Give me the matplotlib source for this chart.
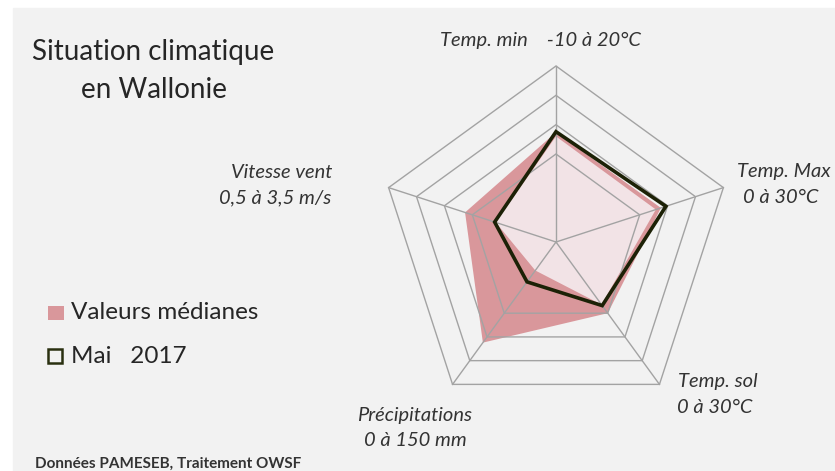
import numpy as np
import matplotlib.pyplot as plt
from matplotlib.patches import Polygon, Rectangle

# -----------------------------
# Data
# -----------------------------
axe_noms = ["Temp. min", "Temp. Max", "Temp. sol", "Précipitations", "Vitesse vent"]
axe_min = [-10, 0, 0, 0, 0.5]
axe_max = [20, 30, 30, 150, 3.5]

medianes = [8.7, 18.8, 15.0, 106, 2.13]
mai_2017 = [8.8, 19.7, 13.4, 42, 1.60]
zone_claire = [8.0, 17.9, 13.2, 30, 1.58]

niveaux = [3, 4, 5, 6]   # grid rings, out of 6
n_niveaux = 6

# -----------------------------
# Figure setup (pixel layout)
# -----------------------------
W, H = 835, 471
BG = "#f2f2f2"
PINK = "#d9979b"
LIGHT = "#f2e3e6"
GRID = "#a3a3a3"
DARK = "#1c2106"
FONT = "Lato"

cx, cy, R = 556, 242, 176

fig = plt.figure(figsize=(W / 100, H / 100), dpi=100)
fig.patch.set_facecolor("white")
fig.patches.append(Rectangle((13 / W, 0), 1 - 13 / W, 1 - 8 / H,
                             transform=fig.transFigure, color=BG, zorder=-5))

ax = fig.add_axes([0, 0, 1, 1])
ax.set_xlim(-cx / R, (W - cx) / R)
ax.set_ylim((cy - H) / R, cy / R)
ax.axis("off")

angles = np.deg2rad(90 - 72 * np.arange(len(axe_noms)))


def to_xy(values):
    frac = (np.array(values, float) - np.array(axe_min)) / (np.array(axe_max) - np.array(axe_min))
    return np.column_stack([frac * np.cos(angles), frac * np.sin(angles)])


# series fills
ax.add_patch(Polygon(to_xy(medianes), closed=True, facecolor=PINK, edgecolor="none", zorder=1))
ax.add_patch(Polygon(to_xy(zone_claire), closed=True, facecolor=LIGHT, edgecolor="none", zorder=2))

# pentagon grid + spokes
for lv in niveaux:
    f = lv / n_niveaux
    ax.add_patch(Polygon(np.column_stack([f * np.cos(angles), f * np.sin(angles)]),
                         closed=True, fill=False, edgecolor=GRID, lw=1.0, zorder=3))
for a in angles:
    ax.plot([0, np.cos(a)], [0, np.sin(a)], color=GRID, lw=1.0, zorder=3)

# Mai 2017 outline
ax.add_patch(Polygon(to_xy(mai_2017), closed=True, fill=False, edgecolor=DARK,
                     lw=2.6, joinstyle="miter", zorder=4))


def px(x, y):
    return x / W, 1 - y / H


# -----------------------------
# Texts
# -----------------------------
fig.text(*px(153, 60), "Situation climatique", ha="center", va="baseline",
         fontsize=20, family=FONT, color="#262626")
fig.text(*px(154, 98), "en Wallonie", ha="center", va="baseline",
         fontsize=20, family=FONT, color="#262626")

lab = dict(fontsize=14.5, family=FONT, style="italic", color="#333333", va="baseline")
fig.text(*px(540, 46), "Temp. min    -10 à 20°C", ha="center", **lab)
fig.text(*px(784, 177), "Temp. Max", ha="center", **lab)
fig.text(*px(781, 203), "0 à 30°C", ha="center", **lab)
fig.text(*px(678, 387), "Temp. sol", ha="left", **lab)
fig.text(*px(677, 413), "0 à 30°C", ha="left", **lab)
fig.text(*px(415, 421), "Précipitations", ha="center", **lab)
fig.text(*px(415, 446), "0 à 150 mm", ha="center", **lab)
fig.text(*px(332, 178), "Vitesse vent", ha="right", **lab)
fig.text(*px(331, 203), "0,5 à 3,5 m/s", ha="right", **lab)

# legend
fig.patches.append(Rectangle(px(48, 320), 16 / W, 14 / H, transform=fig.transFigure,
                             facecolor=PINK, edgecolor="none"))
fig.patches.append(Rectangle(px(48, 363), 14 / W, 14 / H, transform=fig.transFigure,
                             facecolor="none", edgecolor="#2a3010", lw=1.8))
fig.text(*px(71, 319), "Valeurs médianes", ha="left", va="baseline",
         fontsize=17.5, family=FONT, color="#262626")
fig.text(*px(71, 363), "Mai   2017", ha="left", va="baseline",
         fontsize=17.5, family=FONT, color="#262626")

fig.text(*px(35, 468), "Données PAMESEB, Traitement OWSF", ha="left", va="baseline",
         fontsize=11, family=FONT, weight="bold", color="#333333")

fig.savefig("out.png", dpi=100, facecolor=fig.get_facecolor())
